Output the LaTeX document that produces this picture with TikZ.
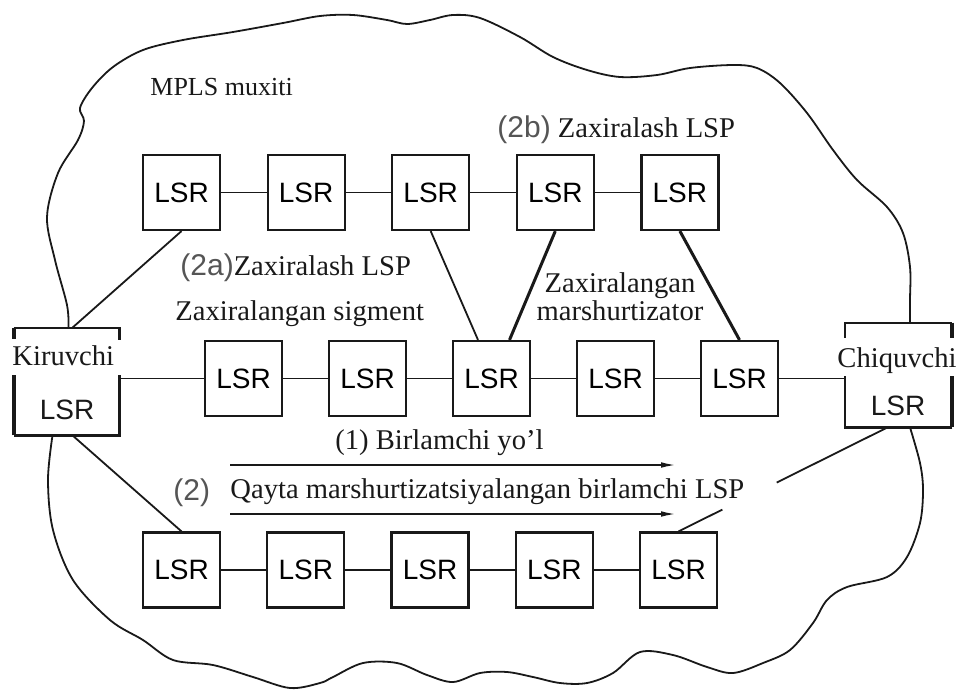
\documentclass[tikz,border=0pt]{standalone}
\usepackage{fontspec}
\setmainfont{Liberation Serif}
\setsansfont{Liberation Sans}
\usetikzlibrary{arrows.meta,calc}
\definecolor{ink}{RGB}{25,25,25}
\definecolor{tagink}{RGB}{85,85,85}
\tikzset{
  >={Latex[length=8pt,width=2.8pt]},
  lsr/.style={draw=ink,line width=1.1pt,minimum width=38.5pt,minimum height=37.5pt,
    inner sep=0pt,font=\sffamily\fontsize{14}{16}\selectfont},
  rim/.style={draw=ink,line width=1.1pt},
  rim heavy/.style={draw=ink,line width=2pt},
  link/.style={draw=ink,line width=0.9pt},
  link heavy/.style={draw=ink,line width=1.5pt},
  cloud/.style={draw=ink,line width=0.9pt},
  route/.style={->,draw=ink,line width=1pt},
  tag/.style={font=\fontsize{14.3}{13}\selectfont,text=ink,inner sep=0pt},
  lsrtag/.style={font=\sffamily\fontsize{14}{16}\selectfont,text=ink,inner sep=0pt},
}
\newcommand{\casenum}[1]{{\sffamily\fontsize{15}{16}\selectfont\color{tagink}#1}}

\begin{document}
\begin{tikzpicture}[x=0.5pt,y=-0.5pt]
  \useasboundingbox (0,0) rectangle (961,691);

  % the three rows of routers
  \foreach \i in {1,...,5} {
    \node[lsr] (t\i) at ({181.5+124.6*(\i-1)},192.5) {LSR};
    \node[lsr] (m\i) at ({243.5+124*(\i-1)},378.5) {LSR};
    \node[lsr] (b\i) at ({181.5+124.25*(\i-1)},570) {LSR};
  }
  \foreach \i [count=\j from 2] in {1,...,4} {
    \draw[link] (t\i) -- (t\j);
    \draw[link] (m\i) -- (m\j);
    \draw[link] (b\i) -- (b\j);
  }

  % ingress and egress routers
  \node[inner sep=0pt,minimum width=52.5pt,minimum height=53.5pt] (kir) at (66.5,381.5) {};
  \node[inner sep=0pt,minimum width=53.5pt,minimum height=52pt] (chq) at (898.5,375) {};
  \draw[rim] (kir.north west) -- (kir.north east) -- ++(0,12);
  \draw[rim heavy] (kir.north west) -- ++(0,11);
  \draw[rim heavy] (kir.south west) -- ++(0,-60);
  \draw[rim] (kir.south west) -- (kir.south east) -- ++(0,-60);
  \draw[rim] (chq.north east) -- (chq.north west) -- ++(0,15);
  \draw[rim heavy] (chq.north east) -- ++(0,15);
  \draw[rim heavy] (chq.south east) -- ++(0,-51);
  \draw[rim] (chq.south east) -- (chq.south west) -- ++(0,-51);
  \node[tag,anchor=base west] (kirtxt) at (12,365) {Kiruvchi};
  \node[lsrtag] (kirlsr) at (67,410) {LSR};
  \node[tag,anchor=base] (chqtxt) at (897,367) {Chiquvchi};
  \node[lsrtag] (chqlsr) at (898,406) {LSR};

  % links
  \draw[link] ([xshift=3pt]kir.north) -- (t1.south);
  \draw[link] ([xshift=3pt]kir.south) -- (b1.north);
  \draw[link] (kir.east |- m1.west) -- (m1);
  \draw[link] (m5) -- (chq.west |- m5.east);
  \draw[link] (t3.south) -- ([xshift=-6.75pt]m3.north);
  \draw[link heavy] (t4.south) -- ([xshift=9pt]m3.north);
  \draw[link heavy] (t5.south) -- (m5.north);
  \coordinate (chqfoot) at ([xshift=-5.5pt]chq.south);
  \draw[link] (b5.north) -- ($(b5.north)!0.21!(chqfoot)$);
  \draw[link] ($(b5.north)!0.47!(chqfoot)$) -- (chqfoot);

  % MPLS cloud
  \coordinate (cloudA) at ([xshift=1pt]kir.north);
  \coordinate (cloudB) at ([xshift=5.75pt]chq.north);
  \coordinate (cloudC) at ([xshift=5.75pt]chq.south);
  \coordinate (cloudD) at ([xshift=-7pt]kir.south);
  \draw[cloud] plot[smooth,tension=0.55] coordinates {(cloudA) (67,305) (55,260) (47,217)
    (58,173) (78,140) (84,121) (80,108) (92,88) (113,67) (143,50) (183,40) (233,32)
    (283,23) (320,16) (353,15) (387,20) (407,24) (430,20) (453,15) (480,18) (520,37)
    (553,57) (587,70) (620,77) (657,75) (690,68) (733,65) (757,68) (780,83) (807,113)
    (833,150) (857,180) (887,207) (903,233) (910,267) (910,300) (cloudB)};
  \draw[cloud] plot[smooth,tension=0.55] coordinates {(cloudC) (920,463) (923,490)
    (920,523) (907,557) (887,577) (847,587) (827,600) (813,623) (790,650) (763,663)
    (733,673) (707,667) (673,655) (640,652) (613,673) (587,683) (560,683) (533,677)
    (507,672) (480,673) (453,682) (427,675) (397,663) (363,663) (333,677) (320,683)
    (290,688) (253,677) (213,665) (173,660) (143,640) (110,620) (73,580) (53,530)
    (48,480) (cloudD)};

  % LSP arrows
  \coordinate (r1a) at (230,465);
  \coordinate (r1b) at (677,465);
  \coordinate (r2a) at (230,514);
  \coordinate (r2b) at (677,514);
  \draw[route] (r1a) -- (r1b);
  \draw[route] (r2a) -- (r2b);

  % labels
  \node[tag,font=\fontsize{13}{15}\selectfont,anchor=base west] (env) at (150,95) {MPLS muxiti};
  \node[tag,anchor=base west] (lbl2b) at (497,137) {\casenum{(2b)} Zaxiralash LSP};
  \node[tag,anchor=base west] (lbl2a) at (180,275) {\casenum{(2a)}Zaxiralash LSP};
  \node[tag,anchor=base west] (lblseg) at (175,320) {Zaxiralangan sigment};
  \node[tag,align=center] (lblrtr) at (620,297) {Zaxiralangan\\marshurtizator};
  \node[tag,anchor=base west] (lbl1) at (335,449) {(1) Birlamchi yo'l};
  \node[tag,anchor=base west] (lbl2) at (173,500) {\casenum{(2)}};
  \node[tag,anchor=base west] (lblre) at (230,498) {Qayta marshurtizatsiyalangan birlamchi LSP};
\end{tikzpicture}
\end{document}
